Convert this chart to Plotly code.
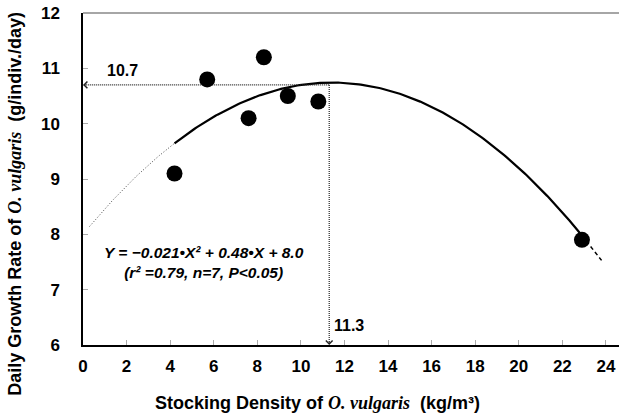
import numpy as np
import plotly.graph_objects as go

# Observed growth vs stocking density
density = [4.2, 5.7, 7.6, 8.3, 9.4, 10.8, 22.9]
growth = [9.1, 10.8, 10.1, 11.2, 10.5, 10.4, 7.9]

# Quadratic fit Y = a*X^2 + b*X + c
coef_a, coef_b, coef_c = -0.021, 0.48, 8.0
peak_x, peak_y = 11.3, 10.7

x_ticks = list(range(0, 25, 2))
y_ticks = list(range(6, 13))

SANS = "Liberation Sans"
SERIF = "Liberation Serif"


def fit(x):
    return coef_a * x ** 2 + coef_b * x + coef_c


fig = go.Figure()

# extrapolated (dotted) part below the observed range
xl = np.linspace(0.3, 4.2, 40)
fig.add_trace(go.Scatter(x=xl, y=fit(xl), mode="lines",
                         line=dict(color="#444444", width=1, dash="1px,2px"),
                         hoverinfo="skip"))
# fitted range
xm = np.linspace(4.2, 22.9, 200)
fig.add_trace(go.Scatter(x=xm, y=fit(xm), mode="lines",
                         line=dict(color="black", width=2.2),
                         hoverinfo="skip"))
# extrapolated (dashed) part above the observed range
xr = np.linspace(22.9, 23.8, 10)
fig.add_trace(go.Scatter(x=xr, y=fit(xr), mode="lines",
                         line=dict(color="black", width=1.5, dash="4px,3px"),
                         hoverinfo="skip"))

# guide lines from the vertex to the axes
fig.add_trace(go.Scatter(x=[peak_x, 0], y=[peak_y, peak_y], mode="lines",
                         line=dict(color="#222222", width=1.2, dash="1px,1px"),
                         hoverinfo="skip"))
fig.add_trace(go.Scatter(x=[peak_x, peak_x], y=[peak_y, 6], mode="lines",
                         line=dict(color="#222222", width=1.2, dash="1px,1px"),
                         hoverinfo="skip"))

# data points
fig.add_trace(go.Scatter(x=density, y=growth, mode="markers",
                         marker=dict(color="black", size=16, line=dict(width=0))))

x_title = ("<b>Stocking Density of </b><b><i><span style='font-family:" + SERIF +
           "'>O. vulgaris</span></i></b><b>  (kg/m\u00b3)</b>")
y_title = ("<b>Daily Growth Rate of </b><b><i><span style='font-family:" + SERIF +
           "'>O. vulgaris</span></i></b><b>  (g/indiv./day)</b>")

annotations = [
    # arrowheads at the axes
    dict(x=0, y=peak_y, ax=0.6, ay=peak_y, xref="x", yref="y", axref="x", ayref="y",
         text="", showarrow=True, arrowhead=4, arrowsize=1.3, arrowwidth=1,
         arrowcolor="#222222", startstandoff=9),
    dict(x=peak_x, y=6, ax=peak_x, ay=6.25, xref="x", yref="y", axref="x", ayref="y",
         text="", showarrow=True, arrowhead=4, arrowsize=1.3, arrowwidth=1,
         arrowcolor="#222222", startstandoff=9),
    dict(x=1.0, y=peak_y, xref="x", yref="y", text=f"<b>{peak_y}</b>", showarrow=False,
         xanchor="left", yanchor="bottom", yshift=4,
         font=dict(family=SANS, size=16, color="black")),
    dict(x=peak_x, y=6, xref="x", yref="y", text=f"<b>{peak_x}</b>", showarrow=False,
         xanchor="left", yanchor="bottom", xshift=3, yshift=9,
         font=dict(family=SANS, size=16, color="black")),
    dict(x=5.55, y=7.5, xref="x", yref="y",
         text=f"<b><i>Y = \u2212{abs(coef_a)}\u2022X\u00b2 + {coef_b}\u2022X + {coef_c:.1f}</i></b>"
              "<br><b><i>(r\u00b2 =0.79, n=7, P&lt;0.05)</i></b>",
         showarrow=False, align="center",
         font=dict(family=SANS, size=15.5, color="black")),
    # axis titles
    dict(x=0.438, y=-0.175, xref="paper", yref="paper", text=x_title, showarrow=False,
         xanchor="center", yanchor="middle",
         font=dict(family=SANS, size=18, color="black")),
    dict(x=-0.127, y=0.425, xref="paper", yref="paper", text=y_title, showarrow=False,
         textangle=-90, xanchor="center", yanchor="middle",
         font=dict(family=SANS, size=18, color="black")),
]

fig.update_layout(
    width=619, height=414,
    margin=dict(l=83, r=0, t=13, b=69),
    paper_bgcolor="white", plot_bgcolor="white",
    showlegend=False,
    annotations=annotations,
    shapes=[dict(type="line", xref="paper", yref="paper", x0=0, x1=1, y0=1, y1=1,
                 line=dict(color="#888888", width=1.5))],
    font=dict(family=SANS, color="black"),
)

fig.update_xaxes(range=[0, 24.6], tickvals=x_ticks, ticks="inside", ticklen=5,
                 tickcolor="#aaaaaa", tickwidth=1, showline=True, linecolor="black",
                 linewidth=1.5, showgrid=False, zeroline=False,
                 tickfont=dict(family=SANS, size=17, color="black", weight="bold"),
                 ticklabelstandoff=5)
fig.update_yaxes(range=[6, 12], tickvals=y_ticks, ticks="inside", ticklen=5,
                 tickcolor="#aaaaaa", tickwidth=1, showline=True, linecolor="black",
                 linewidth=1.5, showgrid=False, zeroline=False,
                 tickfont=dict(family=SANS, size=17, color="black", weight="bold"),
                 ticklabelstandoff=18)

fig.write_html("out.html")
